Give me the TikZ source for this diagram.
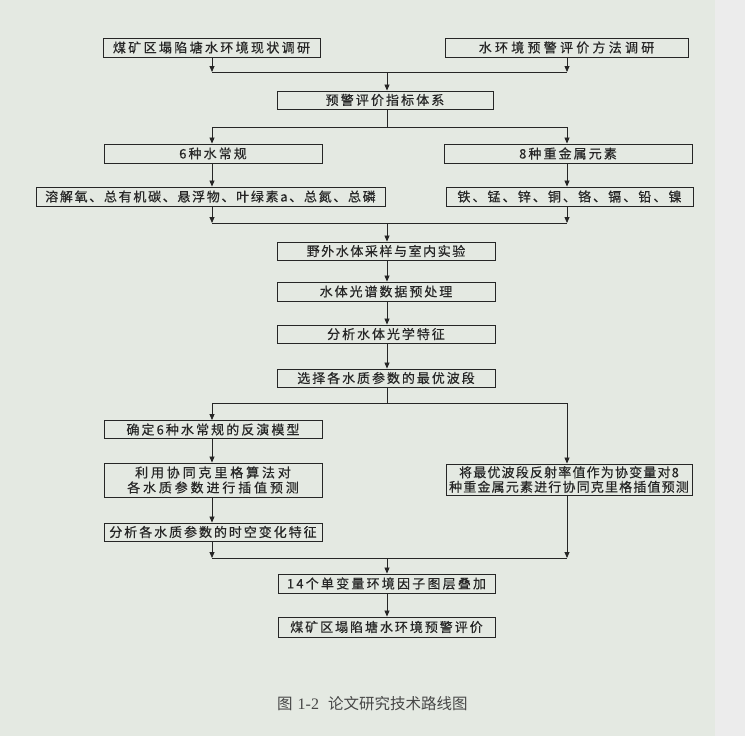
\documentclass[tikz,border=0pt]{standalone}
\usepackage{fontspec}
\setmainfont{Liberation Serif}
\newfontfamily\hei[LetterSpace=12,FakeBold=0.5]{Noto Sans CJK SC}
\newfontfamily\heicap{Noto Sans CJK SC}
\usetikzlibrary{arrows.meta}
\definecolor{bg}{RGB}{228,233,226}
\definecolor{strip}{RGB}{236,236,236}
\definecolor{ink}{RGB}{38,38,38}
\newcommand{\ls}[1]{\hei\fontsize{13}{15}\selectfont\addfontfeature{LetterSpace=#1}}
\begin{document}
\begin{tikzpicture}[x=1pt,y=-1pt,
  box/.style={draw=ink, line width=0.9pt, inner sep=0pt, text=ink, align=center,
    font=\hei\fontsize{13}{15}\selectfont},
  ln/.style={draw=ink, line width=0.8pt},
  arr/.style={draw=ink, line width=0.8pt, -{Triangle[length=6pt,width=5pt]}}]
\fill[bg] (0,0) rectangle (745,736);
\fill[strip] (715,0) rectangle (745,736);
\useasboundingbox (0,0) rectangle (745,736);
% columns
\coordinate (L) at (212,0);
\coordinate (C) at (387,0);
\coordinate (R) at (567,0);
% boxes
\node[box, minimum width=217pt, minimum height=19pt, font=\ls{18}] (b1) at (211.5,47.5) {煤矿区塌陷塘水环境现状调研};
\node[box, minimum width=243pt, minimum height=19pt, font=\ls{25}] (b2) at (566.5,47.5) {水环境预警评价方法调研};
\node[box, minimum width=216pt, minimum height=18pt, font=\ls{16}] (b3) at (385,100) {预警评价指标体系};
\node[box, minimum width=218pt, minimum height=19pt, font=\ls{16}] (b4) at (213,153.5) {6种水常规};
\node[box, minimum width=248pt, minimum height=19pt, font=\ls{16}] (b5) at (568,153.5) {8种重金属元素};
\node[box, minimum width=349pt, minimum height=19pt, font=\ls{13}] (b6) at (210.5,196.5) {溶解氧、总有机碳、悬浮物、叶绿素a、总氮、总磷};
\node[box, minimum width=247pt, minimum height=19pt, font=\ls{16}] (b7) at (569.5,196.5) {铁、锰、锌、铜、铬、镉、铅、镍};
\node[box, minimum width=218pt, minimum height=18pt, font=\ls{12}] (b8) at (386,251) {野外水体采样与室内实验};
\node[box, minimum width=218pt, minimum height=19pt, font=\ls{15}] (b9) at (386,291.5) {水体光谱数据预处理};
\node[box, minimum width=218pt, minimum height=18pt, font=\ls{15}] (b10) at (386,334) {分析水体光学特征};
\node[box, minimum width=218pt, minimum height=18pt, font=\ls{15}] (b11) at (386,378) {选择各水质参数的最优波段};
\node[box, minimum width=218pt, minimum height=18pt, font=\ls{16}] (b12) at (213,429.5) {确定6种水常规的反演模型};
\node[box, minimum width=218pt, minimum height=34pt, font=\ls{22}] (b13) at (213,480) {利用协同克里格算法对\\各水质参数进行插值预测};
\node[box, minimum width=218pt, minimum height=18pt, font=\ls{15}] (b14) at (213,532) {分析各水质参数的时空变化特征};
\node[box, minimum width=246pt, minimum height=31pt, font=\hei\fontsize{13}{14.5}\selectfont\addfontfeature{LetterSpace=9}] (b15) at (569,479.5) {将最优波段反射率值作为协变量对8\\种重金属元素进行协同克里格插值预测};
\node[box, minimum width=217pt, minimum height=19pt, font=\ls{17}] (b16) at (386.5,583.5) {14个单变量环境因子图层叠加};
\node[box, minimum width=217pt, minimum height=20pt, font=\ls{15}] (b17) at (386.5,627) {煤矿区塌陷塘水环境预警评价};
% junctions
\coordinate (j1) at (387,72);
\coordinate (j2) at (387,127);
\coordinate (j3) at (387,223);
\coordinate (j4) at (387,403);
\coordinate (j5) at (387,558);
% connectors
\draw[arr] (L |- b1.south) -- (L |- j1);
\draw[arr] (R |- b2.south) -- (R |- j1);
\draw[ln] (L |- j1) -- (R |- j1);
\draw[arr] (j1) -- (C |- b3.north);
\draw[ln] (C |- b3.south) -- (j2);
\draw[ln] (L |- j2) -- (R |- j2);
\draw[arr] (L |- j2) -- (L |- b4.north);
\draw[arr] (R |- j2) -- (R |- b5.north);
\draw[arr] (L |- b4.south) -- (L |- b6.north);
\draw[arr] (R |- b5.south) -- (R |- b7.north);
\draw[arr] (L |- b6.south) -- (L |- j3);
\draw[arr] (R |- b7.south) -- (R |- j3);
\draw[ln] (L |- j3) -- (R |- j3);
\draw[arr] (j3) -- (C |- b8.north);
\draw[arr] (C |- b8.south) -- (C |- b9.north);
\draw[arr] (C |- b9.south) -- (C |- b10.north);
\draw[arr] (C |- b10.south) -- (C |- b11.north);
\draw[ln] (C |- b11.south) -- (j4);
\draw[ln] (L |- j4) -- (R |- j4);
\draw[arr] (L |- j4) -- (L |- b12.north);
\draw[arr] (R |- j4) -- (R |- b15.north);
\draw[arr] (L |- b12.south) -- (L |- b13.north);
\draw[arr] (L |- b13.south) -- (L |- b14.north);
\draw[arr] (L |- b14.south) -- (L |- j5);
\draw[arr] (R |- b15.south) -- (R |- j5);
\draw[ln] (L |- j5) -- (R |- j5);
\draw[arr] (j5) -- (C |- b16.north);
\draw[arr] (C |- b16.south) -- (C |- b17.north);
% caption
\node[text=ink!85, inner sep=0pt, anchor=west] (cap) at (277,704) {\heicap\fontsize{15.5}{17}\selectfont 图\hspace{5pt}{\rmfamily\fontsize{16}{17}\selectfont 1-2}\hspace{9pt}论文研究技术路线图};
\end{tikzpicture}
\end{document}
